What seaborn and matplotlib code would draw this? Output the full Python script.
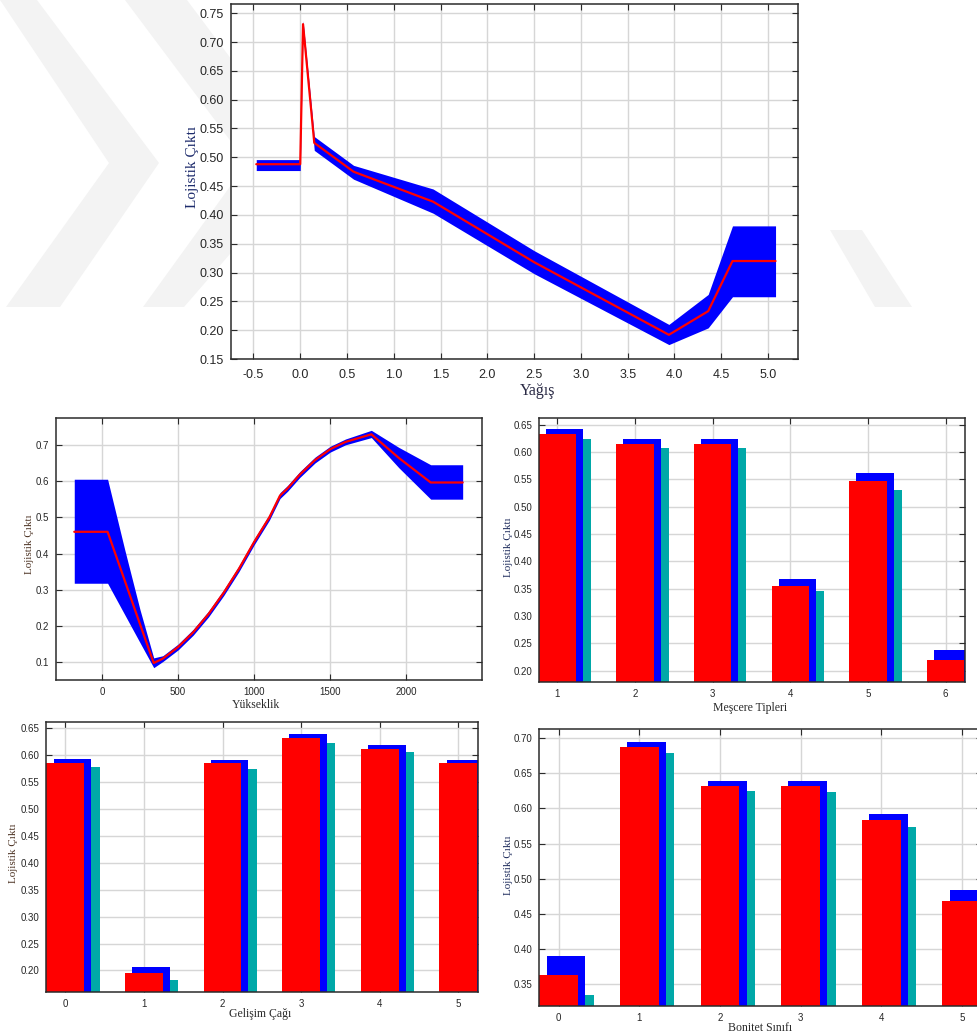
import numpy as np
import pandas as pd
import matplotlib
matplotlib.use("Agg")
import matplotlib.pyplot as plt
import seaborn as sns
from matplotlib.patches import Polygon

# ---- data ----
# Yağış (top panel): red response line and blue band
rain_x = [-0.47, 0.0, 0.03, 0.15, 0.57, 1.42, 2.5, 3.94, 4.36, 4.62, 5.08]
rain_mid = [0.488, 0.488, 0.731, 0.525, 0.475, 0.423, 0.318, 0.192, 0.233, 0.320, 0.320]
rain_lo = [0.477, 0.477, 0.722, 0.512, 0.462, 0.403, 0.298, 0.175, 0.204, 0.258, 0.258]
rain_hi = [0.496, 0.496, 0.737, 0.536, 0.486, 0.445, 0.338, 0.210, 0.262, 0.381, 0.381]

# Yükseklik
elev_x = [-182, 37, 150, 250, 340, 400, 500, 600, 700, 800, 900, 1000, 1100,
          1170, 1220, 1300, 1400, 1500, 1600, 1770, 1950, 2160, 2370]
elev_mid = [0.460, 0.460, 0.325, 0.205, 0.098, 0.110, 0.142, 0.183, 0.233, 0.292,
            0.358, 0.432, 0.500, 0.560, 0.580, 0.618, 0.658, 0.688, 0.708, 0.729,
            0.664, 0.596, 0.596]
elev_lo = [0.318, 0.318, 0.231, 0.154, 0.085, 0.102, 0.134, 0.175, 0.225, 0.284,
           0.350, 0.424, 0.492, 0.552, 0.572, 0.610, 0.650, 0.680, 0.700, 0.720,
           0.637, 0.550, 0.550]
elev_hi = [0.605, 0.605, 0.410, 0.245, 0.112, 0.118, 0.150, 0.191, 0.241, 0.300,
           0.366, 0.440, 0.508, 0.568, 0.588, 0.626, 0.666, 0.696, 0.716, 0.740,
           0.693, 0.645, 0.645]

# Meşcere Tipleri
stand_cat = [1, 2, 3, 4, 5, 6]
stand_red = [0.632, 0.615, 0.615, 0.355, 0.546, 0.219]
stand_blue = [0.641, 0.624, 0.624, 0.367, 0.562, 0.238]
stand_teal = [0.624, 0.607, 0.607, 0.346, 0.531, 0.205]

# Gelişim Çağı
dev_cat = [0, 1, 2, 3, 4, 5]
dev_red = [0.586, 0.195, 0.585, 0.632, 0.612, 0.585]
dev_blue = [0.593, 0.206, 0.592, 0.639, 0.619, 0.592]
dev_teal = [0.578, 0.183, 0.575, 0.623, 0.606, 0.575]

# Bonitet Sınıfı
site_cat = [0, 1, 2, 3, 4, 5]
site_red = [0.363, 0.688, 0.632, 0.632, 0.583, 0.469]
site_blue = [0.390, 0.695, 0.639, 0.639, 0.592, 0.484]
site_teal = [0.335, 0.679, 0.625, 0.623, 0.574, 0.460]

RED = "#ff0000"
BLUE = "#0000ff"
TEAL = "#00a8a8"
SANS = ["Liberation Sans", "DejaVu Sans"]
SERIF = ["Liberation Serif", "DejaVu Serif"]

sns.set_theme(style="whitegrid")
plt.rcParams["font.family"] = SANS

W, H = 977, 1036
fig = plt.figure(figsize=(W / 100, H / 100), dpi=100)

# faint watermark chevrons in the page background (pixel coords)
watermark = [
    [(0, 0), (37, 0), (159, 163), (60, 307), (6, 307), (109, 163)],
    [(125, 0), (187, 0), (309, 163), (184, 307), (143, 307), (247, 163)],
    [(830, 230), (862, 230), (912, 307), (875, 307)],
]
for pts in watermark:
    fig.patches.append(Polygon([(x / W, 1 - y / H) for x, y in pts], closed=True,
                               transform=fig.transFigure, facecolor="#f3f3f3",
                               edgecolor="none", zorder=-5))


def add_axes(l, t, r, b):
    return fig.add_axes([l / W, 1 - b / H, (r - l) / W, (b - t) / H])


def style_axes(ax, tick_size, pad):
    ax.set_facecolor("white")
    ax.grid(True, color="#d6d6d6", linewidth=1.0)
    ax.set_axisbelow(True)
    for sp in ax.spines.values():
        sp.set_visible(True)
        sp.set_color("#2b2b2b")
        sp.set_linewidth(1.1)
    ax.tick_params(direction="in", top=True, right=True, bottom=True, left=True,
                   length=4, width=0.8, color="#2b2b2b", labelsize=tick_size,
                   labelcolor="#262626", pad=pad)


def band_panel(ax, x, mid, lo, hi):
    ax.fill_between(x, lo, hi, color=BLUE, linewidth=0, zorder=2)
    df = pd.DataFrame({"x": x, "y": mid})
    sns.lineplot(data=df, x="x", y="y", sort=False, color=RED, linewidth=1.6,
                 ax=ax, zorder=3)


def bar_panel(ax, cats, red, blue, teal):
    cats = np.array(cats, dtype=float)
    for off, vals, col in [(0.195, teal, TEAL), (0.09, blue, BLUE), (0.0, red, RED)]:
        df = pd.DataFrame({"x": cats + off, "y": vals})
        sns.barplot(data=df, x="x", y="y", native_scale=True, width=0.48,
                    color=col, saturation=1, linewidth=0, errorbar=None, ax=ax)
    ax.set_xticks(cats)
    ax.set_xticklabels([str(int(c)) for c in cats])


fmt2 = matplotlib.ticker.FormatStrFormatter("%.2f")

# ---- top panel: Yağış ----
ax0 = add_axes(231, 4, 798, 359)
band_panel(ax0, rain_x, rain_mid, rain_lo, rain_hi)
style_axes(ax0, 9, 5)
ax0.tick_params(axis="x", pad=7)
ax0.set_xlim(-0.74, 5.32)
ax0.set_ylim(0.15, 0.766)
ax0.set_xticks(np.arange(-0.5, 5.01, 0.5))
ax0.set_yticks(np.arange(0.15, 0.751, 0.05))
ax0.xaxis.set_major_formatter(matplotlib.ticker.FormatStrFormatter("%.1f"))
ax0.yaxis.set_major_formatter(fmt2)
ax0.set_xlabel("Yağış", family=SERIF, fontsize=11.5, color="#2a2a45")
ax0.set_ylabel("Lojistik Çıktı", family=SERIF, fontsize=11, color="#1c2a6b")
ax0.xaxis.set_label_coords(0.54, -0.068)
ax0.yaxis.set_label_coords(-0.056, 0.54)

# ---- Yükseklik ----
ax1 = add_axes(56, 418, 482, 680)
band_panel(ax1, elev_x, elev_mid, elev_lo, elev_hi)
style_axes(ax1, 7, 5)
ax1.set_xlim(-302, 2497)
ax1.set_ylim(0.051, 0.774)
ax1.set_xticks([0, 500, 1000, 1500, 2000])
ax1.set_yticks([0.1, 0.2, 0.3, 0.4, 0.5, 0.6, 0.7])
ax1.set_xlabel("Yükseklik", family=SERIF, fontsize=8.5, color="#2a2a2a")
ax1.set_ylabel("Lojistik Çıktı", family=SERIF, fontsize=8, color="#4a3020")
ax1.xaxis.set_label_coords(0.47, -0.073)
ax1.yaxis.set_label_coords(-0.052, 0.52)

# ---- Meşcere Tipleri ----
ax2 = add_axes(539, 418, 965, 682)
bar_panel(ax2, stand_cat, stand_red, stand_blue, stand_teal)
style_axes(ax2, 7, 5)
ax2.set_xlim(0.764, 6.25)
ax2.set_ylim(0.179, 0.662)
ax2.set_yticks(np.arange(0.20, 0.651, 0.05))
ax2.yaxis.set_major_formatter(fmt2)
ax2.set_xlabel("Meşcere Tipleri", family=SERIF, fontsize=8.5, color="#2a2a2a")
ax2.set_ylabel("Lojistik Çıktı", family=SERIF, fontsize=8, color="#1c2a5b")
ax2.xaxis.set_label_coords(0.495, -0.076)
ax2.yaxis.set_label_coords(-0.061, 0.51)

# ---- Gelişim Çağı ----
ax3 = add_axes(46, 722, 478, 992)
bar_panel(ax3, dev_cat, dev_red, dev_blue, dev_teal)
style_axes(ax3, 7, 5)
ax3.set_xlim(-0.246, 5.25)
ax3.set_ylim(0.160, 0.662)
ax3.set_yticks(np.arange(0.20, 0.651, 0.05))
ax3.yaxis.set_major_formatter(fmt2)
ax3.set_xlabel("Gelişim Çağı", family=SERIF, fontsize=8.5, color="#2a2a2a")
ax3.set_ylabel("Lojistik Çıktı", family=SERIF, fontsize=8, color="#4a3020")
ax3.xaxis.set_label_coords(0.495, -0.06)
ax3.yaxis.set_label_coords(-0.065, 0.515)

# ---- Bonitet Sınıfı ----
ax4 = add_axes(539, 729, 982, 1006)
bar_panel(ax4, site_cat, site_red, site_blue, site_teal)
style_axes(ax4, 7, 5)
ax4.set_xlim(-0.244, 5.25)
ax4.set_ylim(0.319, 0.713)
ax4.set_yticks(np.arange(0.35, 0.701, 0.05))
ax4.yaxis.set_major_formatter(fmt2)
ax4.set_xlabel("Bonitet Sınıfı", family=SERIF, fontsize=8.5, color="#2a2a2a")
ax4.set_ylabel("Lojistik Çıktı", family=SERIF, fontsize=8, color="#1c2a5b")
ax4.xaxis.set_label_coords(0.5, -0.056)
ax4.yaxis.set_label_coords(-0.059, 0.51)

fig.savefig("out.png", dpi=100)
